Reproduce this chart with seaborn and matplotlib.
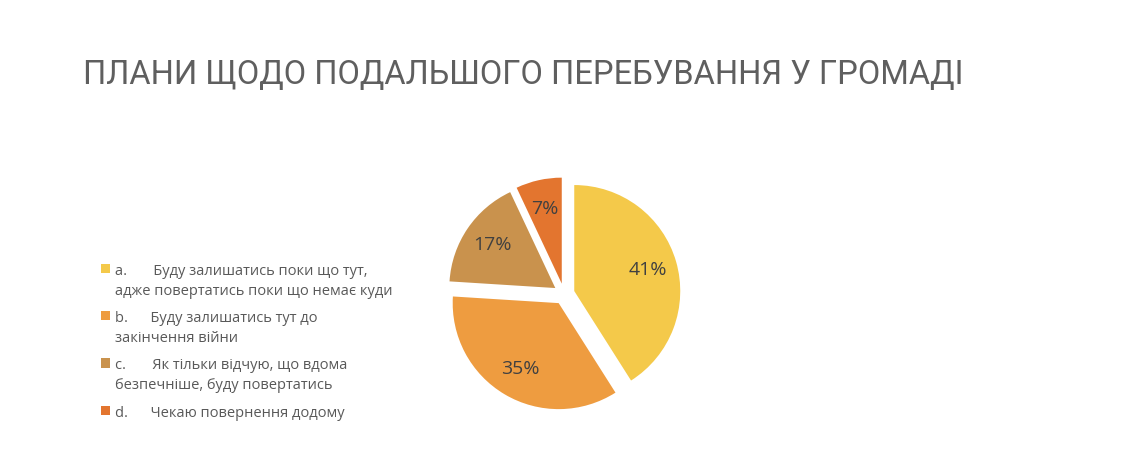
import matplotlib
matplotlib.use("Agg")
import matplotlib.pyplot as plt
import seaborn as sns

sns.set_theme(style="white")
plt.rcParams['font.family'] = ['Open Sans', 'DejaVu Sans']

# Data
title = "ПЛАНИ ЩОДО ПОДАЛЬШОГО ПЕРЕБУВАННЯ У ГРОМАДІ"
labels = [
    "a.       Буду залишатись поки що тут,\nадже повертатись поки що немає куди",
    "b.      Буду залишатись тут до\nзакінчення війни",
    "c.       Як тільки відчую, що вдома\nбезпечніше, буду повертатись",
    "d.      Чекаю повернення додому",
]
shares = [41, 35, 17, 7]
colors = ["#F4C94A", "#EE9C40", "#C9924D", "#E3752F"]

fig = plt.figure(figsize=(11.25, 4.71), dpi=100)
fig.patch.set_facecolor("white")

t = fig.text(0.074, 0.84, title, fontsize=30, color="#5f5f5f",
             family=['Roboto', 'DejaVu Sans'],
             ha="left", va="center")
# fit the title to the width it has in the slide (~877 px)
fig.canvas.draw()
w = t.get_window_extent().width
t.set_fontsize(30 * 877 / w)

ax = fig.add_axes([0.3836, 0.0945, 0.2356, 0.5626])
wedges, texts, autotexts = ax.pie(
    shares, colors=colors, startangle=90, counterclock=False,
    explode=[0.1] * len(shares), autopct="%1.0f%%", pctdistance=0.72,
    wedgeprops=dict(linewidth=0),
    textprops=dict(color="#404040", fontsize=14),
)
ax.set_xlim(-1.25, 1.25)
ax.set_ylim(-1.25, 1.25)
ax.set_aspect("equal")
ax.axis("off")

leg = fig.legend(wedges, labels, loc="upper left", bbox_to_anchor=(0.078, 0.468),
                 frameon=False, fontsize=10.5, handlelength=0.6, handleheight=0.6,
                 handletextpad=0.35, labelspacing=0.85)
for txt in leg.get_texts():
    txt.set_color("#595959")
    txt.set_linespacing(1.45)
# square next to the first line of each label
for col in leg._legend_handle_box.get_children():
    for row in col.get_children():
        row.align = "top"

fig.savefig("out.png", dpi=100, facecolor="white")
